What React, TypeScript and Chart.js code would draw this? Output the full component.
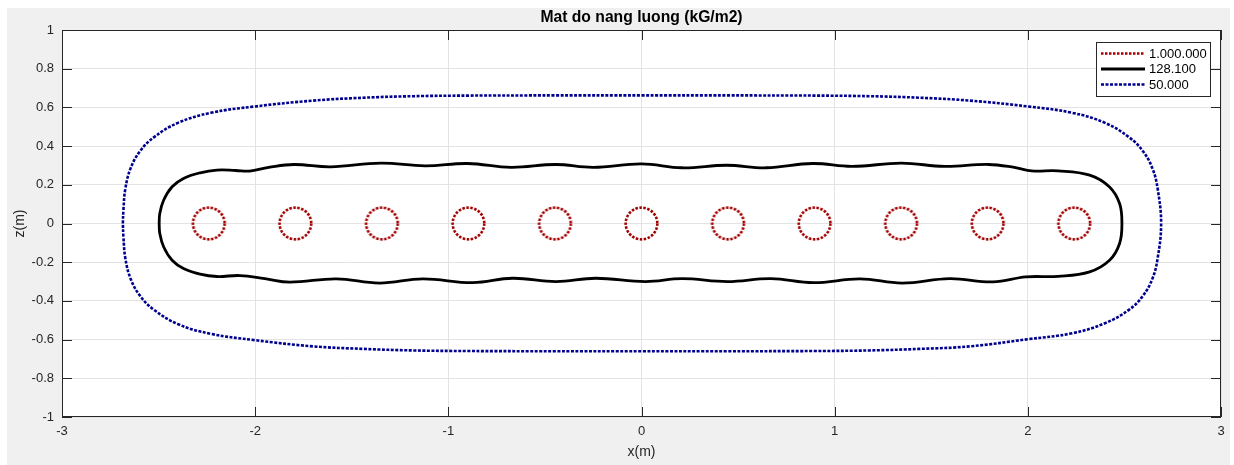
import React, { useEffect, useRef } from "react";
import { Chart, registerables } from "chart.js";

Chart.register(...registerables);

const FONT = '"Liberation Sans", Arial, Helvetica, sans-serif';

const chartTitle = "Mat do nang luong (kG/m2)";
const xAxisTitle = "x(m)";
const zAxisTitle = "z(m)";
const seriesNames = ["1.000.000", "128.100", "50.000"];

const xTickValues = [-3, -2, -1, 0, 1, 2, 3];
const xTickLabels = ["-3", "-2", "-1", "0", "1", "2", "3"];
const zTickValues = [-1, -0.8, -0.6, -0.4, -0.2, 0, 0.2, 0.4, 0.6, 0.8, 1];
const zTickLabels = ["-1", "-0.8", "-0.6", "-0.4", "-0.2", "0", "0.2", "0.4", "0.6", "0.8", "1"];

// 1.000.000 level: small rings around each source
const ringCentersX = [-2.24, -1.792, -1.344, -0.896, -0.448, 0, 0.448, 0.896, 1.344, 1.792, 2.24];
const ringCentersZ = [0, 0, 0, 0, 0, 0, 0, 0, 0, 0, 0];
const ringRadius = 0.082;

// 128.100 level (closed contour)
const midX = [
  -2.497, -2.494, -2.474, -2.43, -2.371, -2.285, -2.198, -2.10, -2.03, -1.93, -1.80, -1.61, -1.35, -1.12, -0.90,
  -0.675, -0.445, -0.25, 0, 0.21, 0.44, 0.645, 0.885, 1.09, 1.345, 1.57, 1.795, 1.93, 2.02, 2.157, 2.32,
  2.423, 2.475, 2.487,
  2.475, 2.423, 2.32, 2.157, 1.99, 1.82, 1.595, 1.35, 1.13, 0.89, 0.67, 0.445, 0.21, 0.02, -0.237,
  -0.443, -0.667, -0.874, -1.132, -1.356, -1.58, -1.821, -1.95, -2.078, -2.198, -2.285, -2.371, -2.43,
  -2.474, -2.494, -2.497,
];
const midZ = [
  0, 0.05, 0.12, 0.19, 0.233, 0.262, 0.276, 0.274, 0.271, 0.29, 0.305, 0.293, 0.312, 0.298, 0.31,
  0.29, 0.305, 0.29, 0.308, 0.288, 0.301, 0.288, 0.31, 0.295, 0.312, 0.295, 0.305, 0.29, 0.272, 0.272, 0.25,
  0.189, 0.103, 0,
  -0.103, -0.19, -0.25, -0.273, -0.276, -0.302, -0.285, -0.308, -0.286, -0.306, -0.285, -0.30, -0.285, -0.30, -0.283,
  -0.30, -0.283, -0.306, -0.286, -0.308, -0.286, -0.303, -0.285, -0.269, -0.274, -0.262, -0.233, -0.19,
  -0.12, -0.05, 0,
];

// 50.000 level (closed contour)
const outerX = [
  -2.685, -2.682, -2.672, -2.645, -2.595, -2.525, -2.40, -2.23, -2.00, -1.70, -1.44, -1.18, -0.90, -0.45, 0,
  0.45, 0.90, 1.18, 1.44, 1.70, 2.00, 2.23, 2.40, 2.525, 2.595, 2.645, 2.672, 2.69,
  2.672, 2.645, 2.595, 2.525, 2.40, 2.23, 2.00, 1.70, 1.44, 1.18, 0.90, 0.45, 0,
  -0.45, -0.90, -1.18, -1.44, -1.70, -2.00, -2.23, -2.40, -2.525, -2.595, -2.645, -2.672, -2.682, -2.685,
];
const outerZ = [
  0, 0.07, 0.18, 0.285, 0.375, 0.445, 0.52, 0.572, 0.605, 0.635, 0.65, 0.658, 0.661, 0.662, 0.662,
  0.662, 0.661, 0.658, 0.65, 0.635, 0.605, 0.572, 0.52, 0.445, 0.375, 0.285, 0.18, 0,
  -0.18, -0.285, -0.375, -0.445, -0.515, -0.567, -0.598, -0.635, -0.648, -0.656, -0.659, -0.66, -0.66,
  -0.66, -0.659, -0.656, -0.648, -0.635, -0.603, -0.57, -0.52, -0.445, -0.375, -0.285, -0.18, -0.07, 0,
];

// styles
const RED = "#a30000";
const BLACK = "#000000";
const BLUE = "#00008f";
const seriesColors = [RED, BLACK, BLUE];
const seriesDashes = [[2.5, 1.5], [], [3, 1.5]];
const seriesWidths = [2.6, 2.8, 2.6];
const AXIS_COLOR = "#262626";
const GRID_COLOR = "#e3e3e3";

const toPoints = (xs: number[], zs: number[]) => xs.map((x, i) => ({ x, y: zs[i] }));

const ringCache: Record<string, HTMLCanvasElement> = {};
function ringImage(rPx: number): HTMLCanvasElement {
  const key = rPx.toFixed(2);
  if (ringCache[key]) return ringCache[key];
  const w = seriesWidths[0];
  const size = Math.ceil((rPx + w) * 2) + 2;
  const c = document.createElement("canvas");
  c.width = size;
  c.height = size;
  const g = c.getContext("2d")!;
  g.strokeStyle = seriesColors[0];
  g.lineWidth = w;
  g.setLineDash(seriesDashes[0]);
  g.beginPath();
  g.arc(size / 2, size / 2, rPx, 0, Math.PI * 2);
  g.stroke();
  ringCache[key] = c;
  return c;
}

const plotBgPlugin = {
  id: "plotBg",
  beforeDraw(chart: any) {
    const { ctx, chartArea } = chart;
    ctx.save();
    ctx.fillStyle = "#ffffff";
    ctx.fillRect(chartArea.left, chartArea.top, chartArea.right - chartArea.left, chartArea.bottom - chartArea.top);
    ctx.restore();
  },
};

const framePlugin = {
  id: "matlabFrame",
  beforeDatasetsDraw(chart: any) {
    const { ctx, chartArea, scales } = chart;
    const { left, right, top, bottom } = chartArea;
    const tl = 10;
    ctx.save();
    ctx.strokeStyle = AXIS_COLOR;
    ctx.lineWidth = 1;
    ctx.beginPath();
    xTickValues.forEach((v) => {
      const px = Math.round(scales.x.getPixelForValue(v)) + 0.5;
      ctx.moveTo(px, bottom);
      ctx.lineTo(px, bottom - tl);
      ctx.moveTo(px, top);
      ctx.lineTo(px, top + tl);
    });
    zTickValues.forEach((v) => {
      const py = Math.round(scales.y.getPixelForValue(v)) + 0.5;
      ctx.moveTo(left, py);
      ctx.lineTo(left + tl, py);
      ctx.moveTo(right, py);
      ctx.lineTo(right - tl, py);
    });
    ctx.stroke();
    ctx.strokeRect(Math.round(left) + 0.5, Math.round(top) + 0.5, Math.round(right - left) - 1, Math.round(bottom - top) - 1);
    ctx.restore();
  },
};

const legendPlugin = {
  id: "matlabLegend",
  afterDraw(chart: any) {
    const { ctx, chartArea } = chart;
    ctx.save();
    ctx.font = `13px ${FONT}`;
    const textW = Math.max(...seriesNames.map((n) => ctx.measureText(n).width));
    const padL = 5;
    const lineLen = 44;
    const gap = 4;
    const padR = 4;
    const rowH = 15.5;
    const w = Math.round(padL + lineLen + gap + textW + padR);
    const h = 55;
    const right = Math.round(chartArea.right - 10);
    const top = Math.round(chartArea.top + 12);
    const left = right - w;
    ctx.fillStyle = "#ffffff";
    ctx.fillRect(left, top, w, h);
    ctx.strokeStyle = AXIS_COLOR;
    ctx.lineWidth = 1;
    ctx.strokeRect(left + 0.5, top + 0.5, w - 1, h - 1);
    seriesNames.forEach((name, i) => {
      const y = top + 11.5 + i * rowH;
      ctx.beginPath();
      ctx.strokeStyle = seriesColors[i];
      ctx.lineWidth = seriesWidths[i];
      ctx.setLineDash(seriesDashes[i]);
      ctx.moveTo(left + padL, y);
      ctx.lineTo(left + padL + lineLen, y);
      ctx.stroke();
      ctx.setLineDash([]);
      ctx.fillStyle = "#000000";
      ctx.textBaseline = "middle";
      ctx.textAlign = "left";
      ctx.fillText(name, left + padL + lineLen + gap, y + 0.5);
    });
    ctx.restore();
  },
};

export default function App() {
  const canvasRef = useRef<HTMLCanvasElement | null>(null);

  useEffect(() => {
    if (!canvasRef.current) return;
    const chart = new Chart(canvasRef.current, {
      type: "scatter",
      data: {
        datasets: [
          {
            label: seriesNames[0],
            data: toPoints(ringCentersX, ringCentersZ),
            showLine: false,
            pointRadius: 1,
            pointHoverRadius: 1,
            pointBorderWidth: 0,
            pointStyle: (c: any) => {
              const sx = c.chart.scales.x;
              const rPx = Math.abs(sx.getPixelForValue(ringRadius) - sx.getPixelForValue(0));
              return ringImage(rPx);
            },
          } as any,
          {
            label: seriesNames[1],
            data: toPoints(midX, midZ),
            showLine: true,
            borderColor: seriesColors[1],
            borderWidth: seriesWidths[1],
            borderDash: seriesDashes[1],
            pointRadius: 0,
            tension: 0.4,
          },
          {
            label: seriesNames[2],
            data: toPoints(outerX, outerZ),
            showLine: true,
            borderColor: seriesColors[2],
            borderWidth: seriesWidths[2],
            borderDash: seriesDashes[2],
            pointRadius: 0,
            tension: 0.4,
          },
        ],
      },
      options: {
        animation: false,
        responsive: false,
        maintainAspectRatio: false,
        events: [],
        layout: { padding: { left: 0, top: 0, right: 9, bottom: 0 } },
        plugins: {
          legend: { display: false },
          tooltip: { enabled: false },
          title: {
            display: true,
            text: chartTitle,
            fullSize: false,
            color: "#000000",
            font: { family: FONT, size: 15.7, weight: "bold" },
            padding: { top: 0.5, bottom: 2.66 },
          },
        },
        scales: {
          x: {
            type: "linear",
            min: -3,
            max: 3,
            afterBuildTicks: (s: any) => {
              s.ticks = xTickValues.map((v) => ({ value: v }));
            },
            afterFit: (s: any) => {
              s.height = 48;
              s.paddingLeft = 0;
              s.paddingRight = 0;
              s.paddingTop = 0;
              s.paddingBottom = 0;
            },
            ticks: {
              callback: (v: any) => xTickLabels[xTickValues.indexOf(Number(v))] ?? "",
              color: AXIS_COLOR,
              font: { family: FONT, size: 13 },
              padding: 7,
              maxRotation: 0,
            },
            grid: { color: GRID_COLOR, drawTicks: false, lineWidth: 1 },
            border: { display: false },
            title: {
              display: true,
              text: xAxisTitle,
              color: AXIS_COLOR,
              font: { family: FONT, size: 14 },
              padding: { top: 0, bottom: 4.6 },
            },
          },
          y: {
            type: "linear",
            min: -1,
            max: 1,
            afterBuildTicks: (s: any) => {
              s.ticks = zTickValues.map((v) => ({ value: v }));
            },
            afterFit: (s: any) => {
              s.width = 55;
              s.paddingLeft = 0;
              s.paddingRight = 0;
              s.paddingTop = 0;
              s.paddingBottom = 0;
            },
            ticks: {
              callback: (v: any) => {
                const i = zTickValues.findIndex((t) => Math.abs(t - Number(v)) < 1e-9);
                return i >= 0 ? zTickLabels[i] : "";
              },
              color: AXIS_COLOR,
              font: { family: FONT, size: 13 },
              padding: 8,
            },
            grid: { color: GRID_COLOR, drawTicks: false, lineWidth: 1 },
            border: { display: false },
            title: {
              display: true,
              text: zAxisTitle,
              color: AXIS_COLOR,
              font: { family: FONT, size: 14 },
              padding: { top: 4.6, bottom: 0 },
            },
          },
        },
      },
      plugins: [plotBgPlugin, framePlugin, legendPlugin],
    } as any);
    return () => chart.destroy();
  }, []);

  return (
    <div
      style={{
        position: "absolute",
        left: 7,
        top: 8,
        width: 1223,
        height: 457,
        background: "#f0f0f0",
      }}
    >
      <canvas ref={canvasRef} width={1223} height={457} style={{ display: "block", width: 1223, height: 457 }} />
    </div>
  );
}
